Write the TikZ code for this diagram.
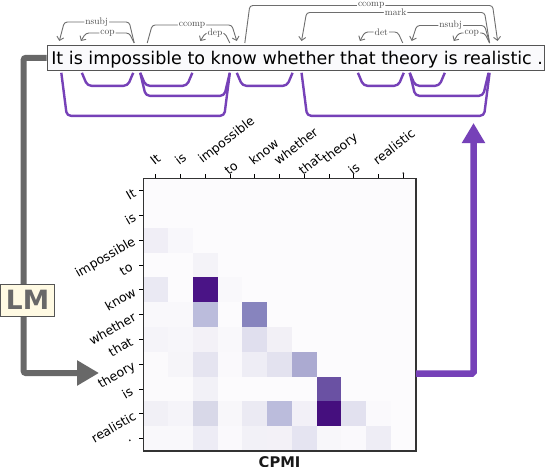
\documentclass[tikz,border=0pt]{standalone}
\usepackage{fontspec}
\usetikzlibrary{arrows.meta,calc}
\newfontfamily\dvs{DejaVu Sans}
\newcommand\mySent{\dvs\fontsize{17.5}{20}\selectfont}
\newcommand\myTick{\dvs\fontsize{12.5}{14}\selectfont}
\newcommand\myLM{\dvs\bfseries\fontsize{26.5}{28}\selectfont}
\newcommand\myCPMI{\dvs\bfseries\fontsize{14.7}{16}\selectfont}
\newcommand\myArcLab{\fontsize{9.5}{10}\selectfont}
\definecolor{arcgrey}{HTML}{6E6E6E}
\definecolor{lmgrey}{HTML}{686868}
\definecolor{treepurple}{HTML}{7641B8}
\definecolor{boxfill}{HTML}{FAFAFC}
\definecolor{boxline}{HTML}{555555}
\definecolor{lmfill}{HTML}{FFFAE3}
\definecolor{cmzero}{HTML}{FCFBFD}
\definecolor{frameline}{HTML}{333333}
\tikzset{
  word/.style={inner sep=0pt, outer sep=0pt, font=\mySent, anchor=base west},
  sentbox/.style={draw=boxline, fill=boxfill, line width=0.8pt, inner sep=0pt, minimum width=497.6pt, minimum height=25pt, anchor=north west},
  deparc/.style={draw=arcgrey, line width=0.9pt, rounded corners=3pt, -{Straight Barb[length=3.5pt,width=7pt]}},
  deplab/.style={fill=white, inner sep=1pt, font=\myArcLab, text=arcgrey!70!black},
  brk/.style={draw=treepurple, line width=2.4pt, rounded corners=4pt, line join=round},
  garrow/.style={draw=lmgrey, line width=6pt, rounded corners=2pt, -{Triangle[length=22pt,width=24pt]}},
  parrow/.style={draw=treepurple, line width=6.5pt, rounded corners=1.5pt, -{Triangle[length=20pt,width=22pt]}},
  lmbox/.style={draw=boxline, fill=lmfill, line width=0.9pt, font=\myLM, text=lmgrey, minimum width=53.6pt, minimum height=32pt, inner sep=0pt},
  ticklab/.style={font=\myTick, inner sep=0pt},
  tickmark/.style={draw=black, line width=0.9pt},
  matframe/.style={draw=frameline, line width=1.4pt}
}
\newcommand\deparc[7]{%
  \draw[deparc] let \p1=(#1.base), \p2=(#3.base), \p3=(sent.north) in
    ({\x1+(#2)*1pt},{\y3+2pt}) -- ({\x1+(#2)*1pt+(#7)*5pt},{\y3+(#5)*1pt})
    -- node[deplab]{#6} ({\x2+(#4)*1pt-(#7)*5pt},{\y3+(#5)*1pt}) -- ({\x2+(#4)*1pt},{\y3+4pt});}
\newcommand\brk[5]{%
  \draw[brk] let \p1=(#1.base), \p2=(#3.base), \p3=(sent.south) in
    ({\x1+(#2)*1pt},{\y3-2pt}) -- ({\x1+(#2)*1pt+5.5pt},{\y3-(#5)*1pt})
    -- ({\x2+(#4)*1pt-5.5pt},{\y3-(#5)*1pt}) -- ({\x2+(#4)*1pt},{\y3-2pt});}
\begin{document}
\begin{tikzpicture}[x=1pt,y=-1pt]
\useasboundingbox (0,0) rectangle (546,466);
\fill[white] (0,0) rectangle (546,466);
% sentence
\node[sentbox] (sent) at (46.7,45) {};
\node[word] (w1) at (51.3,64) {It};
\node[word] (w2) at ([xshift=5.565pt]w1.base east) {is};
\node[word] (w3) at ([xshift=5.565pt]w2.base east) {impossible};
\node[word] (w4) at ([xshift=5.565pt]w3.base east) {to};
\node[word] (w5) at ([xshift=5.565pt]w4.base east) {know};
\node[word] (w6) at ([xshift=5.565pt]w5.base east) {whether};
\node[word] (w7) at ([xshift=5.565pt]w6.base east) {that};
\node[word] (w8) at ([xshift=5.565pt]w7.base east) {theory};
\node[word] (w9) at ([xshift=5.565pt]w8.base east) {is};
\node[word] (w10) at ([xshift=5.565pt]w9.base east) {realistic};
\node[word] (w11) at ([xshift=5.565pt]w10.base east) {.};
% dependency arcs
\deparc{w3}{-1}{w1}{2}{23}{nsubj}{-1}
\deparc{w3}{-1}{w2}{5}{12}{cop}{-1}
\deparc{w3}{12}{w5}{3}{20}{ccomp}{1}
\deparc{w5}{-4}{w4}{4}{12}{dep}{-1}
\deparc{w5}{11}{w10}{0}{39.5}{ccomp}{1}
\deparc{w10}{-8}{w6}{3}{32.5}{mark}{-1}
\deparc{w8}{-7}{w7}{2}{13}{det}{-1}
\deparc{w10}{-8}{w8}{2}{19.5}{nsubj}{-1}
\deparc{w10}{-8}{w9}{3}{12}{cop}{-1}
% tree brackets
\brk{w2}{6}{w3}{-2}{15}
\brk{w3}{5}{w4}{-4}{15}
\brk{w3}{5}{w5}{-4}{25}
\brk{w1}{4}{w5}{-4}{45}
\brk{w5}{3}{w6}{-6}{15}
\brk{w7}{0}{w8}{-6}{15}
\brk{w8}{0}{w9}{-6}{15}
\brk{w8}{0}{w10}{-9}{25}
\brk{w6}{3}{w10}{-8}{45}
% heat map
\node[fill=cmzero, inner sep=0pt, outer sep=0pt, minimum width=272.5pt, minimum height=272.7pt, anchor=north west] (mat) at (143.3,178.3) {};
\foreach \r/\c/\col in {2/0/F0EEF6,2/1/F8F7FB,3/2/F4F3F8,
  4/0/EAE9F3,4/2/4A1486,4/3/F9F8FB,
  5/0/F9F8FB,5/1/F9F8FB,5/2/BBBCDC,5/4/8784BE,
  6/0/F5F4F9,6/1/F7F6FA,6/2/F3F1F7,6/3/F9F8FB,6/4/E0DFEE,6/5/F2F0F6,
  7/0/FBFAFC,7/1/F6F5F9,7/2/E5E4F0,7/3/FAF9FC,7/4/EEEDF5,7/5/E3E2EF,7/6/ABAAD1,
  8/0/FBFAFC,8/1/FBFAFC,8/2/F2F1F7,8/7/6A51A3,
  9/0/F1F0F6,9/1/F5F4F9,9/2/D8D8E8,9/3/F8F7FA,9/4/EBEAF3,9/5/BBBCDC,9/6/F2F0F7,9/7/450F7E,9/8/E2E1EF,9/9/FAF9FC,
  10/0/F9F8FB,10/1/F9F8FB,10/2/EDECF5,10/3/FAF9FC,10/4/F2F1F7,10/5/F3F1F7,10/6/E5E4F1,10/7/F8F7FA,10/8/FAF9FC,10/9/EEEDF5}{
  \definecolor{cellc}{HTML}{\col}
  \fill[cellc] ($(mat.north west)+(\c*24.77,\r*24.79)$) rectangle ++(24.77,24.79);
}
\draw[matframe] (mat.north west) rectangle (mat.south east);
\foreach \w/\dy [count=\i from 0] in {It/0,is/0,impossible/0,to/10,know/0,whether/0,that/10,theory/0,is/10,realistic/0,./10}{
  \draw[tickmark] ($(mat.north west)+(\i*24.77+12.38,0)$) -- ++(0,-4.5);
  \draw[tickmark] ($(mat.north west)+(0,\i*24.79+12.4)$) -- ++(-4.5,0);
  \node[ticklab, rotate=38, anchor=south west] (tl\i) at ($(mat.north west)+(\i*24.77+12.38-1,-12.3+\dy)$) {\w};
  \node[ticklab, rotate=30, anchor=east] (ll\i) at ($(mat.north west)+(-8.5-\dy*0.3,\i*24.79+12.4+1)$) {\w};
}
\node[font=\myCPMI, inner sep=0pt, anchor=north, text=black!90] (cpmi) at ($(mat.south)+(0,5.8)$) {CPMI};
% main arrows
\coordinate (gc) at (23.7,373);
\coordinate (gtip) at (99,373);
\draw[garrow] (sent.west) -| (gc) -- (gtip);
\node[lmbox] (lm) at (27.5,300) {LM};
\coordinate (pc) at (473.5,373.5);
\coordinate (ptip) at (473.5,123);
\draw[parrow] (mat.east |- pc) -- (pc) -- (ptip);
\end{tikzpicture}
\end{document}
